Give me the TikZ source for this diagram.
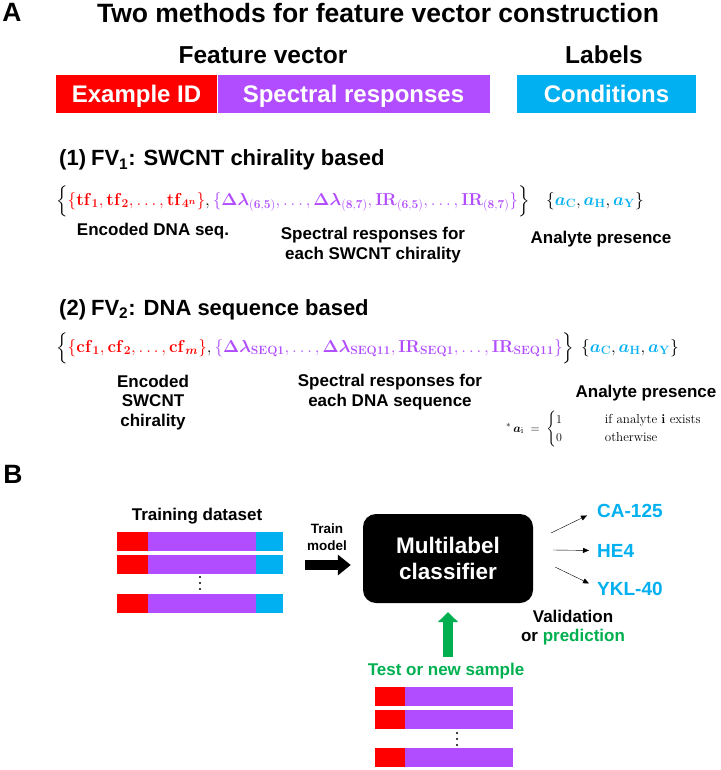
\documentclass[tikz,border=0pt]{standalone}
\usepackage{amsmath}
\usepackage{bm}
\usepackage[no-math]{fontspec}
\setsansfont{Liberation Sans}
\renewcommand{\familydefault}{\sfdefault}
\usetikzlibrary{arrows.meta,positioning}
\definecolor{fred}{HTML}{FF0000}
\definecolor{fpurple}{HTML}{B14CFF}
\definecolor{fblue}{HTML}{00B0F0}
\definecolor{fgreen}{HTML}{00B050}
\newcommand{\dl}{\boldsymbol{\Delta\lambda}}
\newcommand{\av}[1]{\textcolor{fblue}{\boldsymbol{a}_{\mathbf{#1}}}}

\begin{document}
\begin{tikzpicture}[x=1pt, y=-1pt, inner sep=0pt, line join=round,
    >={Triangle[length=6pt,width=5pt]},
    big/.style={font=\fontsize{26.5}{30}\selectfont\bfseries, anchor=base},
    head/.style={font=\fontsize{24.5}{28}\selectfont\bfseries, anchor=base},
    bar/.style={minimum height=38pt, text=white, text height=17pt, text depth=0pt,
      font=\fontsize{24}{28}\selectfont\bfseries},
    sect/.style={font=\fontsize{22}{26}\selectfont\bfseries, anchor=base west},
    lbl/.style={font=\fontsize{17}{19.5}\selectfont\bfseries, align=center},
    vec/.style={font=\fontsize{18.6}{22}\selectfont, anchor=west},
    lab/.style={font=\fontsize{17.5}{22}\selectfont, anchor=west},
    marker/.style={font=\fontsize{19}{22}\selectfont\bfseries, text=fblue, anchor=base west},
    clfbox/.style={fill=black, rounded corners=13pt, minimum width=170pt, minimum height=89pt,
      text=white, align=center, font=\fontsize{22.5}{26}\selectfont\bfseries},
    fat/.style={line width=10pt, -{Triangle[length=13pt,width=20pt]}},
  ]
  \useasboundingbox (0,0) rectangle (720,770);

  % A: feature vector layout
  \node[big] (pa) at (12,22) {A};
  \node[big] (title) at (378,23) {Two methods for feature vector construction};
  \node[head] (fvec) at (263,64) {Feature vector};
  \node[head] (labels) at (604,64) {Labels};
  \node[bar, fill=fred, minimum width=161pt] (exid) at (136.5,94) {Example ID};
  \node[bar, fill=fpurple, minimum width=273pt] (spec) at (353.5,94) {Spectral responses};
  \node[bar, fill=fblue, minimum width=179pt] (cond) at (606.5,94) {Conditions};
  \draw[white, line width=1pt] (exid.north east) -- (exid.south east);

  % (1) chirality based
  \node[sect] (fv1) at (59,166) {(1)\hspace{5pt}FV\textsubscript{1}: SWCNT chirality based};
  \node[vec] (fv1v) at (56,201) {$\Bigl\{\textcolor{fred}{\{\mathbf{tf}_{\mathbf{1}},\mathbf{tf}_{\mathbf{2}},\ldots,\mathbf{tf}_{\mathbf{4}^{\boldsymbol{n}}}\}},\textcolor{fpurple}{\{\dl_{\mathbf{(6,5)}},\ldots,\dl_{\mathbf{(8,7)}},\mathbf{IR}_{\mathbf{(6,5)}},\ldots,\mathbf{IR}_{\mathbf{(8,7)}}\}}\Bigr\}$};
  \node[lab] (fv1y) at (546,201) {$\{\av{C},\av{H},\av{Y}\}$};
  \node[lbl, anchor=base] (fv1a) at (153,235) {Encoded DNA seq.};
  \node[lbl, anchor=north] (fv1b) at (373,227.4) {Spectral responses for\\each SWCNT chirality};
  \node[lbl, anchor=base] (fv1c) at (601,243) {Analyte presence};

  % (2) sequence based
  \node[sect] (fv2) at (59,315) {(2)\hspace{5pt}FV\textsubscript{2}: DNA sequence based};
  \node[vec, font=\fontsize{18.3}{22}\selectfont] (fv2v) at (56,348) {$\Bigl\{\textcolor{fred}{\{\mathbf{cf}_{\mathbf{1}},\mathbf{cf}_{\mathbf{2}},\ldots,\mathbf{cf}_{\boldsymbol{m}}\}},\textcolor{fpurple}{\{\dl_{\mathbf{SEQ1}},\ldots,\dl_{\mathbf{SEQ11}},\mathbf{IR}_{\mathbf{SEQ1}},\ldots,\mathbf{IR}_{\mathbf{SEQ11}}\}}\Bigr\}$};
  \node[lab] (fv2y) at (581,348) {$\{\av{C},\av{H},\av{Y}\}$};
  \node[lbl, anchor=north] (fv2a) at (153,374.6) {Encoded\\SWCNT\\chirality};
  \node[lbl, anchor=north] (fv2b) at (390,374.4) {Spectral responses for\\each DNA sequence};
  \node[lbl, anchor=base] (fv2c) at (646,397) {Analyte presence};
  \node[anchor=west, font=\fontsize{13}{15}\selectfont\rmfamily] (ai) at (506,429)
    {${}^{*}\,\boldsymbol{a}_{\mathrm{i}}\;=\;\begin{cases}1 & \hspace{2.3em}\text{if analyte \textbf{i} exists}\\ 0 & \hspace{2.3em}\text{otherwise}\end{cases}$};

  % B: classifier
  \node[big] (pb) at (13,483) {B};
  \node[lbl, anchor=base] (train) at (197,520) {Training dataset};
  \foreach \y in {532,555,594} {
    \fill[fred] (117,\y) rectangle (148,\y+19);
    \fill[fpurple] (148,\y) rectangle (256,\y+19);
    \fill[fblue] (256,\y) rectangle (283,\y+19);
  }
  \foreach \d in {577,583,589} \fill (200,\d) circle (1.1);
  \node[anchor=north, align=center, font=\fontsize{13.5}{17}\selectfont\bfseries] (tmodel) at (327,523.3) {Train\\model};
  \node[clfbox] (clf) at (448,558.5) {Multilabel\\classifier};
  \coordinate (tm) at (305,565);
  \draw[fat, shorten >=12pt] (tm) -- (clf.west |- tm);

  \node[marker] (ca) at (597,517) {CA-125};
  \node[marker] (he) at (597,557) {HE4};
  \node[marker] (ykl) at (597,595) {YKL-40};
  \coordinate (s1) at (551,533);
  \coordinate (s2) at (553,550);
  \coordinate (s3) at (555,567);
  \draw[->] (s1) -- ([xshift=-10pt,yshift=-5pt]ca.west);
  \draw[->] (s2) -- ([xshift=-8pt]he.west);
  \draw[->] (s3) -- ([xshift=-8pt,yshift=5pt]ykl.west);
  \node[lbl, anchor=north] (valid) at (573,609.6) {Validation\\or \textcolor{fgreen}{prediction}};

  \node[lbl, anchor=base, text=fgreen, outer sep=5.5pt] (test) at (446,675) {Test or new sample};
  \draw[fat, fgreen, -{Triangle[length=10pt,width=20pt]}, shorten >=9pt] (clf.south |- test.north) -- (clf.south);
  \foreach \y in {687,710,748} {
    \fill[fred] (375,\y) rectangle (405,\y+19);
    \fill[fpurple] (405,\y) rectangle (513,\y+19);
  }
  \foreach \d in {733,739,745} \fill (457,\d) circle (1.1);
\end{tikzpicture}
\end{document}
